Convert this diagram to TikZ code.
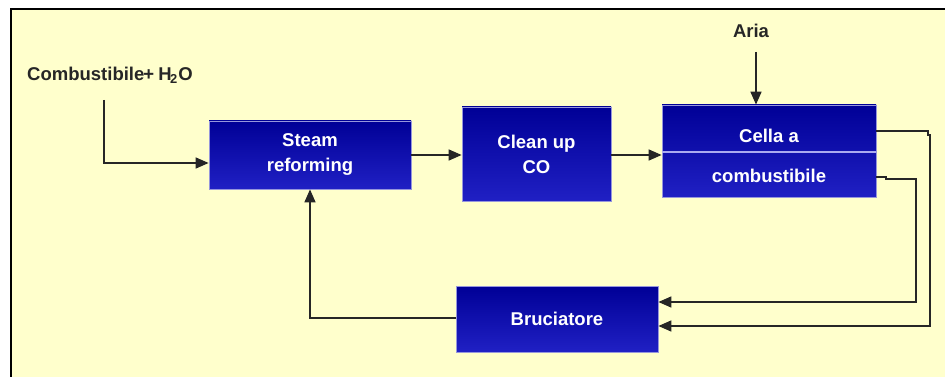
\documentclass[tikz,border=0pt]{standalone}
\usepackage{fontspec}
\setmainfont{Liberation Sans}
\usetikzlibrary{arrows.meta}
\definecolor{panel}{RGB}{255,255,204}
\definecolor{boxtop}{RGB}{0,0,150}
\definecolor{boxbot}{RGB}{32,32,196}
\definecolor{boxedge}{RGB}{150,150,220}
\definecolor{divider}{RGB}{170,170,240}
\begin{document}
\begin{tikzpicture}[x=1pt,y=-1pt,
  blk/.style={rectangle, draw=boxedge, line width=0.8pt, top color=boxtop, bottom color=boxbot,
    text=white, font=\fontsize{18.5}{25}\selectfont\bfseries, align=center, inner sep=0pt},
  intext/.style={text=white, font=\fontsize{18.5}{22}\selectfont\bfseries, inner sep=0pt},
  lbl/.style={font=\fontsize{18.5}{22}\selectfont\bfseries, text=black!85, inner sep=0pt},
  flow/.style={line width=1.6pt, draw=black!85, -{Triangle[length=13pt,width=11pt]}},
  wire/.style={line width=1.6pt, draw=black!85}]
  \useasboundingbox (0,0) rectangle (945,377);
  % panel
  \fill[panel] (11,9) rectangle (945,377);
  \draw[line width=2pt] (11,377) -- (11,9) -- (945,9);

  % blocks
  \node[blk, minimum width=202pt, minimum height=68pt] (steam) at (310,155) {Steam\\reforming};
  \node[blk, minimum width=149pt, minimum height=94pt] (clean) at (536.5,154) {Clean up\\CO};
  \node[blk, minimum width=214pt, minimum height=92pt] (cella) at (769,151) {};
  \draw[divider, line width=1.5pt] ([yshift=-1pt]cella.west) -- ([yshift=-1pt]cella.east);
  \node[intext] (cellaA) at (769,136) {Cella a};
  \node[intext] (cellaB) at (769,176) {combustibile};
  \node[blk, minimum width=202pt, minimum height=66pt] (bruc) at (557,319) {Bruciatore};

  % inputs
  \node[lbl, anchor=west] (fuel) at (27,75) {Combustibile\kern-1pt{}+\kern-1pt{} H\kern-1.5pt$_{\mathbf 2}$\kern0.5pt O};
  \node[lbl] (aria) at (751,31) {Aria};
  \coordinate (fuelTop) at (104,100);
  \coordinate (ariaTop) at (756,52);

  % connectors
  \draw[flow] (fuelTop) |- ([yshift=-8pt]steam.west);
  \draw[flow] (ariaTop) -- (ariaTop |- cella.north);
  \draw[flow] (steam.east) -- (steam.east -| clean.west);
  \draw[flow] ([yshift=-1pt]clean.east) -- ([yshift=-1pt]clean.east -| cella.west);

  \coordinate (o1a) at (928,131);
  \coordinate (o1b) at (930,135);
  \draw[flow] ([yshift=20pt]cella.east) -- (o1a) -- (o1a |- o1b) -- (o1b) |- ([yshift=-7pt]bruc.east);
  \coordinate (o2a) at (886,177);
  \coordinate (o2b) at (916,179);
  \draw[flow] ([yshift=-26pt]cella.east) -- (o2a) -- (o2a |- o2b) -- (o2b) |- ([yshift=17pt]bruc.east);

  \draw[flow] ([yshift=1pt]bruc.west) -| (steam.south);
\end{tikzpicture}
\end{document}
